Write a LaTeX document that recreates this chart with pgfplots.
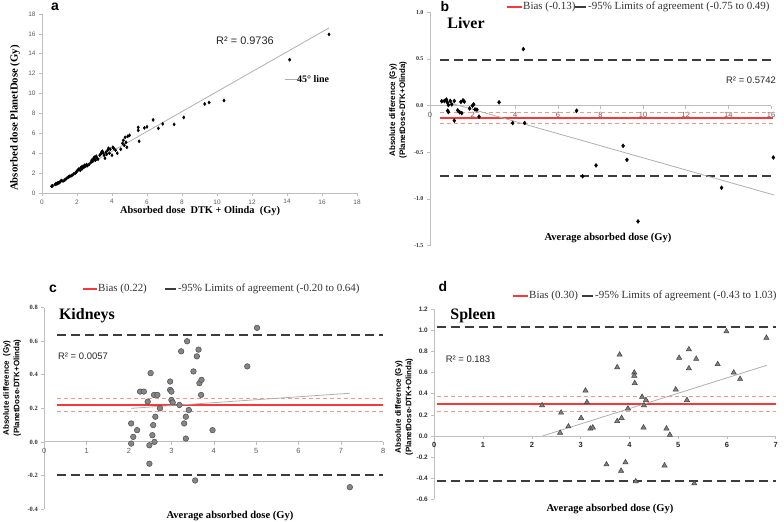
\documentclass[border=0pt]{standalone}
\usepackage{fontspec}
\setmainfont{Liberation Serif}
\newfontfamily\arial{Liberation Sans}
\usepackage{pgfplots}
\pgfplotsset{compat=1.18}
\definecolor{axgray}{RGB}{190,190,190}
\definecolor{biasred}{RGB}{250,55,55}
\definecolor{pinkd}{RGB}{245,150,145}
\definecolor{limgray}{RGB}{60,60,60}
\definecolor{trend}{RGB}{175,175,175}
\definecolor{tickgray}{RGB}{90,90,90}
\pgfplotsset{
  base/.style={scale only axis, clip=false,
    /pgf/number format/assume math mode=true,
    hide obscured x ticks=false, hide obscured y ticks=false,
    axis line style={axgray, line width=0.8bp},
    tick style={axgray, line width=0.6bp},
    major tick length=3bp, tick align=outside},
  hl/.style={line width=2bp, limgray, dash pattern=on 9bp off 5bp, forget plot},
  bias/.style={line width=1.6bp, biasred, forget plot},
  ci/.style={line width=0.9bp, pinkd, dash pattern=on 4bp off 3bp, forget plot},
  tr/.style={line width=0.8bp, trend, forget plot},
}
\begin{document}
\begin{tikzpicture}
\useasboundingbox (0,0) rectangle (784bp,522bp);
% ---------------- panel a
\begin{axis}[base, at={(42bp,329bp)}, anchor=south west,
  width=315bp, height=179bp, axis lines*=left,
  xmin=0, xmax=18, ymin=0, ymax=18,
  xtick={0,2,...,18}, ytick={0,2,...,18},
  ticklabel style={font=\arial\fontsize{6.5}{7}\selectfont, text=tickgray}]
\addplot[tr] coordinates {(0.5,0.68) (16.4,16.6)};
\addplot[only marks, mark=diamond*, mark size=1.6bp, black] coordinates {
(0.55,0.68)(0.6,0.72)(0.75,0.85)(0.8,0.95)(0.85,0.9)(0.9,1.0)(0.95,1.02)(1.0,1.05)(1.05,1.15)(1.1,1.25)
(1.2,1.2)(1.3,1.3)(1.4,1.45)(1.5,1.6)(1.55,1.65)(1.6,1.7)(1.7,1.75)(1.8,1.9)(1.9,2.0)(1.95,2.1)
(2.0,2.2)(2.05,2.3)(2.1,2.4)(2.15,2.35)(2.2,2.5)(2.2,2.3)(2.25,2.6)(2.3,2.45)(2.35,2.7)(2.4,2.6)
(2.45,2.8)(2.5,2.7)(2.55,2.85)(2.6,2.75)(2.7,2.9)(2.8,3.1)(2.85,3.3)(2.9,3.2)(2.95,3.5)(3.0,3.4)
(3.0,3.6)(3.05,3.3)(3.1,3.7)(3.15,3.5)(3.2,3.4)(3.3,3.8)(3.35,3.9)(3.4,4.1)(3.45,4.2)(3.5,4.0)
(3.55,3.8)(3.6,3.5)(3.65,4.1)(3.7,3.9)(3.75,4.3)(3.8,4.5)(3.85,4.0)(3.9,4.4)(4.0,3.8)(4.05,4.6)
(4.1,4.5)(4.2,4.3)(4.3,4.0)(4.5,4.4)(4.6,5.0)(4.65,5.3)(4.7,4.8)(4.75,5.6)(4.8,5.1)(4.85,4.6)
(4.9,5.7)(5.0,5.8)(5.5,6.6)(5.5,6.3)(5.55,5.2)(5.85,6.55)(6.0,6.65)(6.35,7.35)(6.65,6.5)(6.9,6.95)
(7.55,6.9)(8.1,7.6)(9.3,8.95)(9.55,9.1)(10.4,9.3)(14.15,13.4)(16.4,15.95)};
\end{axis}
\node[font=\arial\bfseries\fontsize{14}{14}\selectfont] at (55bp,515bp) {a};
\node[font=\arial\fontsize{11}{11}\selectfont, text=black!85] at (245bp,481bp) {R² = 0.9736};
\draw[trend, line width=0.8bp] (285bp,443bp) -- (297bp,443bp);
\node[anchor=west, inner sep=0pt, font=\bfseries\fontsize{10}{10}\selectfont] at (297bp,443bp) {45° line};
\node[font=\bfseries\fontsize{10.4}{11}\selectfont] at (200bp,311bp) {Absorbed dose\ \ DTK + Olinda\ \ (Gy)};
\node[rotate=90, font=\bfseries\fontsize{10.8}{11}\selectfont] at (15bp,404bp) {Absorbed dose PlanetDose (Gy)};
% ---------------- panel b
\begin{axis}[base, at={(430bp,276.3bp)}, anchor=south west,
  width=341bp, height=233.4bp, axis x line*=middle, axis y line*=left,
  xmin=0, xmax=16, ymin=-1.5, ymax=1.0,
  xtick={0,2,...,16}, ytick={-1.5,-1,-0.5,0,0.5,1},
  yticklabels={-1.5,-1.0,-0.5,0.0,0.5,1.0},
  xticklabel style={font=\arial\fontsize{7.5}{8}\selectfont, text=tickgray},
  yticklabel style={font=\bfseries\fontsize{6}{7}\selectfont, text=black!80}]
\addplot[hl] coordinates {(0.45,0.49) (16.1,0.49)};
\addplot[hl] coordinates {(0.45,-0.75) (16.1,-0.75)};
\addplot[ci] coordinates {(0.45,-0.07) (16.1,-0.07)};
\addplot[ci] coordinates {(0.45,-0.19) (16.1,-0.19)};
\addplot[bias] coordinates {(0.45,-0.13) (16.1,-0.13)};
\addplot[tr] coordinates {(0.55,0.054) (16.14,-0.957)};
\addplot[only marks, mark=diamond*, mark size=2bp, black] coordinates {
(0.55,0.047)(0.67,0.05)(0.77,0.065)(0.81,0.036)(0.86,0.007)(0.95,0.05)(1.02,0.014)(1.14,0.05)
(0.86,-0.068)(0.83,-0.054)(1.14,-0.16)(1.30,-0.05)(1.39,-0.07)(1.45,0.04)(1.55,0.057)(1.61,0.043)
(1.49,-0.08)(1.86,-0.03)(1.99,0.0)(2.05,0.014)(2.11,-0.04)(2.20,-0.043)(2.30,-0.118)(3.24,0.036)
(3.88,-0.186)(4.44,-0.186)(4.38,0.606)(6.88,-0.054)(7.79,-0.64)(7.16,-0.756)(9.06,-0.43)(9.24,-0.58)
(9.76,-1.24)(13.68,-0.88)(16.11,-0.555)};
\end{axis}
\node[font=\arial\bfseries\fontsize{14}{14}\selectfont] at (445bp,515bp) {b};
\draw[biasred, line width=1.6bp] (507bp,515bp) -- (522bp,515bp);
\node[anchor=west, inner sep=1pt, font=\fontsize{11}{11}\selectfont, text=black!80] at (522bp,515bp) {Bias (-0.13)};
\draw[limgray, line width=2bp] (575bp,515bp) -- (586bp,515bp);
\node[anchor=west, inner sep=1pt, font=\fontsize{11}{11}\selectfont, text=black!80] at (587bp,515bp) {-95\% Limits of agreement (-0.75 to 0.49)};
\node[font=\bfseries\fontsize{16}{16}\selectfont] at (466bp,499bp) {Liver};
\node[font=\arial\fontsize{9.5}{10}\selectfont, text=black!85] at (751bp,442bp) {R² = 0.5742};
\node[font=\bfseries\fontsize{10.6}{11}\selectfont] at (608bp,284bp) {Average absorbed dose (Gy)};
\node[rotate=90, align=center, font=\arial\bfseries\fontsize{8}{10}\selectfont] at (398bp,412bp) {Absolute difference (Gy)\\(PlanetDose-DTK+Olinda)};
% ---------------- panel c
\begin{axis}[base, at={(44.3bp,13bp)}, anchor=south west,
  width=339bp, height=201.3bp, axis x line*=middle, axis y line*=left,
  xmin=0, xmax=8, ymin=-0.4, ymax=0.8,
  xtick={0,1,...,8}, ytick={-0.4,-0.2,0,0.2,0.4,0.6,0.8},
  yticklabels={-0.4,-0.2,0.0,0.2,0.4,0.6,0.8},
  xticklabel style={font=\arial\fontsize{7.5}{8}\selectfont, text=tickgray},
  yticklabel style={font=\bfseries\fontsize{6.5}{7}\selectfont, text=black!80}]
\addplot[hl] coordinates {(0.3,0.64) (8,0.64)};
\addplot[hl] coordinates {(0.3,-0.20) (8,-0.20)};
\addplot[ci] coordinates {(0.3,0.26) (8,0.26)};
\addplot[ci] coordinates {(0.3,0.18) (8,0.18)};
\addplot[bias] coordinates {(0.3,0.22) (8,0.22)};
\addplot[tr] coordinates {(2.05,0.20) (7.21,0.29)};
\addplot[only marks, mark=*, mark size=2.8bp, draw=black!70, fill=black!48, line width=0.5bp] coordinates {
(2.05,0.11)(2.05,-0.01)(2.10,0.03)(2.19,0.07)(2.26,0.30)(2.35,0.30)(2.44,0.24)(2.51,0.41)
(2.48,-0.02)(2.48,-0.13)(2.55,0.04)(2.57,0.10)(2.59,0.28)(2.60,0.00)(2.62,0.15)(2.67,0.28)
(2.73,0.20)(2.97,0.31)(2.97,0.36)(3.00,0.30)(3.00,0.25)(3.03,0.235)(3.19,0.22)(3.23,0.54)
(3.30,0.11)(3.34,0.15)(3.34,0.02)(3.37,0.60)(3.41,0.19)(3.52,0.42)(3.60,0.51)(3.64,0.55)
(3.66,0.35)(3.71,0.37)(3.70,0.28)(3.97,0.07)(3.56,-0.23)(4.79,0.45)(5.02,0.68)(7.21,-0.27)};
\end{axis}
\node[font=\arial\bfseries\fontsize{14}{14}\selectfont] at (53bp,233bp) {c};
\draw[biasred, line width=1.6bp] (83bp,233bp) -- (97bp,233bp);
\node[anchor=west, inner sep=1pt, font=\fontsize{11}{11}\selectfont, text=black!80] at (97bp,233bp) {Bias (0.22)};
\draw[limgray, line width=2bp] (165bp,233bp) -- (176bp,233bp);
\node[anchor=west, inner sep=1pt, font=\fontsize{11}{11}\selectfont, text=black!80] at (177bp,233bp) {-95\% Limits of agreement (-0.20 to 0.64)};
\node[font=\bfseries\fontsize{16}{16}\selectfont] at (87bp,206bp) {Kidneys};
\node[font=\arial\fontsize{9.5}{10}\selectfont, text=black!85] at (83bp,166bp) {R² = 0.0057};
\node[font=\bfseries\fontsize{10.6}{11}\selectfont] at (230bp,6bp) {Average absorbed dose (Gy)};
\node[rotate=90, align=center, font=\arial\bfseries\fontsize{8}{10.5}\selectfont] at (12bp,134bp) {Absolute difference\ \ (Gy)\\(PlanetDose-DTK+Olinda)};
% ---------------- panel d
\begin{axis}[base, at={(434.3bp,22.7bp)}, anchor=south west,
  width=341.4bp, height=190bp, axis x line*=middle, axis y line*=left,
  xmin=0, xmax=7, ymin=-0.6, ymax=1.2,
  xtick={0,1,...,7}, ytick={-0.6,-0.4,-0.2,0,0.2,0.4,0.6,0.8,1.0,1.2},
  yticklabels={-0.6,-0.4,-0.2,0.0,0.2,0.4,0.6,0.8,1.0,1.2},
  xticklabel style={font=\arial\bfseries\fontsize{7.5}{8}\selectfont, text=black!85},
  yticklabel style={font=\arial\bfseries\fontsize{6.5}{7}\selectfont, text=black!80}]
\addplot[hl] coordinates {(0.05,1.03) (7,1.03)};
\addplot[hl] coordinates {(0.05,-0.43) (7,-0.43)};
\addplot[ci] coordinates {(0.05,0.37) (7,0.37)};
\addplot[ci] coordinates {(0.05,0.23) (7,0.23)};
\addplot[bias] coordinates {(0.05,0.30) (7,0.30)};
\addplot[tr] coordinates {(2.22,0.0) (6.82,0.67)};
\addplot[only marks, mark=triangle*, mark size=3bp, draw=black!75, fill=black!50, line width=0.5bp] coordinates {
(2.21,0.29)(2.60,0.22)(2.58,0.03)(2.75,0.09)(3.01,0.17)(3.10,0.43)(3.13,0.32)(3.20,0.07)
(3.25,0.08)(3.53,-0.27)(3.75,0.65)(3.80,0.77)(3.75,0.14)(3.84,0.17)(3.83,-0.33)(3.92,-0.25)
(3.97,0.26)(4.10,0.60)(4.10,0.57)(4.11,0.50)(4.13,-0.43)(4.26,0.37)(4.29,0.08)(4.30,0.29)
(4.34,0.34)(4.72,-0.28)(4.76,0.07)(4.83,0.01)(4.95,0.44)(5.02,0.74)(5.18,0.34)(5.22,0.82)
(5.22,0.64)(5.33,-0.45)(5.37,0.73)(5.81,0.68)(5.99,0.99)(6.14,0.60)(6.27,0.54)(6.81,0.93)};
\end{axis}
\node[font=\arial\bfseries\fontsize{14}{14}\selectfont] at (443bp,235bp) {d};
\draw[biasred, line width=1.6bp] (513bp,226bp) -- (528bp,226bp);
\node[anchor=west, inner sep=1pt, font=\fontsize{11}{11}\selectfont, text=black!80] at (528bp,226bp) {Bias (0.30)};
\draw[limgray, line width=2bp] (582bp,226bp) -- (593bp,226bp);
\node[anchor=west, inner sep=1pt, font=\fontsize{11}{11}\selectfont, text=black!80] at (594bp,226bp) {-95\% Limits of agreement (-0.43 to 1.03)};
\node[font=\bfseries\fontsize{16}{16}\selectfont] at (473bp,206bp) {Spleen};
\node[font=\arial\fontsize{9.5}{10}\selectfont, text=black!85] at (468bp,163bp) {R² = 0.183};
\node[font=\bfseries\fontsize{10.6}{11}\selectfont] at (610bp,13bp) {Average absorbed dose (Gy)};
\node[rotate=90, align=center, font=\arial\bfseries\fontsize{8}{10.5}\selectfont] at (404bp,115bp) {Absolute difference (Gy)\\(PlanetDose-DTK+Olinda)};
\end{tikzpicture}
\end{document}
